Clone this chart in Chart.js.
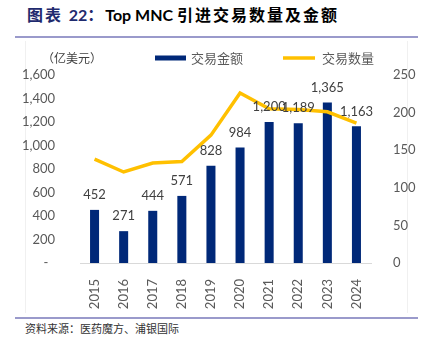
<!DOCTYPE html>
<html>
<head>
<meta charset="utf-8">
<script src="https://cdn.jsdelivr.net/npm/chart.js@4.4.1/dist/chart.umd.min.js"></script>
<style>
    body { margin: 0; background: #fff; width: 426px; height: 352px; position: relative; overflow: hidden; }
    .title { position: absolute; left: 27px; top: 2px; font-size: 16px; font-weight: bold; white-space: nowrap; font-family: Lato, "Noto Sans CJK SC", sans-serif; }
    .title .num { color: #1f2a6e; }
    .title .cjk { font-family: "Noto Sans CJK SC", sans-serif; letter-spacing: 2px; }
    .rule { position: absolute; left: 15px; width: 403px; height: 2px; background: #9a9acb; }
    .source { position: absolute; left: 25px; top: 320px; font-size: 11px; color: #333; font-family: "Noto Sans CJK SC", sans-serif; }
    .frame { position: absolute; top: 41px; width: 1px; height: 272px; background: #f0f0f0; }
    .chart-box { position: absolute; left: 15px; top: 41px; width: 403px; height: 272px; }
</style>
</head>
<body>
<div class="title"><span class="num cjk">图表 </span><span class="num">22</span><span class="num cjk">：</span><span>Top MNC </span><span class="cjk">引进交易数量及金额</span></div>
<div class="rule" style="top:36px"></div>
<div class="frame" style="left:25px"></div>
<div class="frame" style="left:407px"></div>
<div class="chart-box"><canvas id="mncChart"></canvas></div>
<div class="rule" style="top:317px"></div>
<div class="source">资料来源：医药魔方、浦银国际</div>
<script>
document.addEventListener('DOMContentLoaded', function () {
    const years = ['2015', '2016', '2017', '2018', '2019', '2020', '2021', '2022', '2023', '2024'];
    const dealAmount = [452, 271, 444, 571, 828, 984, 1200, 1189, 1365, 1163]; // 亿美元
    const dealCount = [138, 121, 133, 135, 170, 226, 205, 204, 201, 186];
    const leftTicks = [0, 200, 400, 600, 800, 1000, 1200, 1400, 1600];
    const rightTicks = [0, 50, 100, 150, 200, 250];

    const navy = '#002878';
    const gold = '#ffc000';
    const grey = '#595959';

    Chart.defaults.font.family = 'Lato, sans-serif';
    Chart.defaults.font.size = 13;
    Chart.defaults.color = grey;

    // value labels over bars, unit label and legend drawn on the canvas
    const Extras = {
        id: 'extras',
        afterDatasetsDraw(chart) {
            const ctx = chart.ctx;
            const meta = chart.getDatasetMeta(1);
            ctx.save();
            ctx.font = '13px Lato, sans-serif';
            ctx.fillStyle = '#404040';
            ctx.textAlign = 'center';
            ctx.textBaseline = 'middle';
            meta.data.forEach((bar, i) => {
                ctx.fillText(dealAmount[i].toLocaleString('en-US'), bar.x, bar.y - 15);
            });
            ctx.restore();
        },
        afterDraw(chart) {
            const ctx = chart.ctx;
            const y = 17;
            ctx.save();
            ctx.font = '12px "Noto Sans CJK SC", sans-serif';
            ctx.fillStyle = '#404040';
            ctx.textAlign = 'center';
            ctx.textBaseline = 'middle';
            ctx.fillText('（亿美元）', 57, y);

            ctx.font = '13px "Noto Sans CJK SC", sans-serif';
            ctx.textAlign = 'left';
            const barSet = chart.data.datasets[1];
            const lineSet = chart.data.datasets[0];
            ctx.fillStyle = barSet.backgroundColor;
            ctx.fillRect(140, y - 2.5, 31, 5);
            ctx.fillStyle = grey;
            ctx.fillText(barSet.label, 176, y);

            ctx.strokeStyle = lineSet.borderColor;
            ctx.lineWidth = 3.5;
            ctx.beginPath();
            ctx.moveTo(268, y);
            ctx.lineTo(300, y);
            ctx.stroke();
            ctx.fillText(lineSet.label, 307, y);
            ctx.restore();
        }
    };

    new Chart(document.getElementById('mncChart'), {
        data: {
            labels: years,
            datasets: [
                {
                    type: 'line',
                    label: '交易数量',
                    data: dealCount,
                    yAxisID: 'y1',
                    borderColor: gold,
                    borderWidth: 3.5,
                    pointRadius: 0,
                    tension: 0,
                    order: 0
                },
                {
                    type: 'bar',
                    label: '交易金额',
                    data: dealAmount,
                    yAxisID: 'y',
                    backgroundColor: navy,
                    barPercentage: 0.31,
                    categoryPercentage: 1,
                    order: 1
                }
            ]
        },
        options: {
            responsive: true,
            maintainAspectRatio: false,
            animation: false,
            layout: { padding: { top: 34, left: 0, right: 0, bottom: 0 } },
            plugins: {
                legend: { display: false },
                tooltip: { enabled: false }
            },
            scales: {
                x: {
                    grid: { display: false },
                    border: { color: '#d9d9d9', width: 1 },
                    ticks: { minRotation: 90, maxRotation: 90, padding: 8 },
                    afterFit(scale) { scale.height = 50; }
                },
                y: {
                    position: 'left',
                    min: leftTicks[0],
                    max: leftTicks[leftTicks.length - 1],
                    grid: { display: false },
                    border: { display: false },
                    afterBuildTicks(scale) { scale.ticks = leftTicks.map(v => ({ value: v })); },
                    ticks: {
                        padding: 17,
                        callback: function (value) {
                            return value === 0 ? '-  ' : value.toLocaleString('en-US');
                        }
                    },
                    afterFit(scale) { scale.width = 65; }
                },
                y1: {
                    position: 'right',
                    min: rightTicks[0],
                    max: rightTicks[rightTicks.length - 1],
                    grid: { display: false },
                    border: { display: false },
                    afterBuildTicks(scale) { scale.ticks = rightTicks.map(v => ({ value: v })); },
                    ticks: { padding: 14 },
                    afterFit(scale) { scale.width = 47; }
                }
            }
        },
        plugins: [Extras]
    });
});
</script>
</body>
</html>
